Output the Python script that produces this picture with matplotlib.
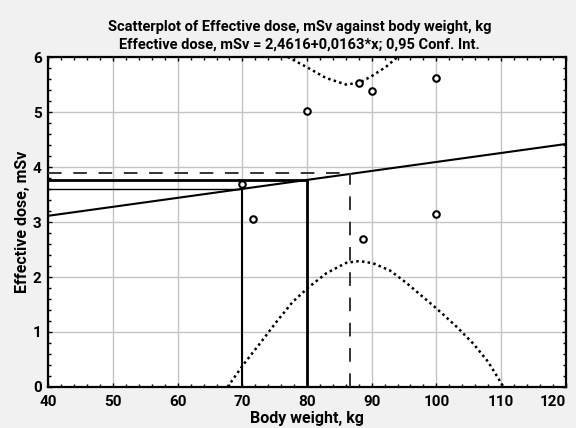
import matplotlib
matplotlib.use("Agg")
import matplotlib.pyplot as plt
from matplotlib.ticker import MultipleLocator
import numpy as np

# data
weight = [70.0, 71.7, 80.0, 88.1, 90.1, 100.0, 100.0, 88.7]
dose = [3.70, 3.05, 5.02, 5.52, 5.38, 5.61, 3.14, 2.69]

intercept = 2.4616
slope = 0.0163

# confidence band (dotted)
upper_x = [77.0, 79.9, 82.9, 86.0, 88.1, 90.1, 92.2, 94.0]
upper_y = [6.00, 5.82, 5.62, 5.50, 5.53, 5.66, 5.82, 6.00]
lower_x = [67.7, 70.1, 72.7, 75.3, 77.8, 80.2, 83.0, 86.1, 88.1, 90.2, 92.8,
           95.4, 97.9, 100.0, 103.1, 105.7, 108.0, 110.4]
lower_y = [0.00, 0.40, 0.79, 1.19, 1.55, 1.81, 2.07, 2.26, 2.29, 2.25, 2.12,
           1.89, 1.64, 1.43, 1.10, 0.79, 0.46, 0.00]

# reference lines
ref_x = [70.0, 80.0]
ref_y = [3.60, 3.77]
dash_x = 86.6
dash_y = 3.90

x_ticks = [40, 50, 60, 70, 80, 90, 100, 110, 120]

plt.rcParams["font.family"] = ["Roboto", "DejaVu Sans"]
plt.rcParams["font.weight"] = "bold"

fig = plt.figure(figsize=(5.76, 4.28), dpi=100, facecolor="#f1f1f1")
ax = fig.add_axes([0.0842, 0.0958, 0.8978, 0.771])
ax.set_facecolor("white")

xs = np.array([40, 120])
ax.plot(xs, intercept + slope * xs, color="black", lw=1.5, zorder=3)

ax.plot(upper_x, upper_y, color="black", lw=1.8, linestyle=(0, (1, 1.3)), zorder=3)
ax.plot(lower_x, lower_y, color="black", lw=1.8, linestyle=(0, (1, 1.3)), zorder=3)

# reference lines from axes to regression line
ax.plot([40, ref_x[0]], [ref_y[0], ref_y[0]], color="black", lw=1.0, zorder=3)
ax.plot([ref_x[0], ref_x[0]], [0, ref_y[0]], color="black", lw=1.5, zorder=3)
ax.plot([40, ref_x[1]], [ref_y[1], ref_y[1]], color="black", lw=2.0, zorder=3)
ax.plot([ref_x[1], ref_x[1]], [0, ref_y[1]], color="black", lw=2.0, zorder=3)
ax.plot([40, dash_x], [dash_y, dash_y], color="#333333", lw=1.4, dashes=(7, 6), zorder=3)
ax.plot([dash_x, dash_x], [0, dash_y], color="#333333", lw=1.4, dashes=(7, 6), zorder=3)

ax.scatter(weight, dose, s=22, facecolors="white", edgecolors="black", linewidths=1.5, zorder=4)

ax.set_xlim(40, 120)
ax.set_ylim(0, 6)
ax.set_xticks(x_ticks, [str(t) for t in x_ticks])
ax.xaxis.set_minor_locator(MultipleLocator(2))
ax.yaxis.set_major_locator(MultipleLocator(1))
ax.yaxis.set_minor_locator(MultipleLocator(0.2))
ax.grid(True, which="major", color="#c4c4c4", lw=1.0, zorder=0)
ax.set_axisbelow(True)
ax.tick_params(which="both", direction="in", top=True, right=True, labelsize=11, width=1)
ax.tick_params(axis="x", which="major", length=3, pad=6)
ax.tick_params(axis="y", which="major", length=3, pad=5)
ax.tick_params(which="minor", length=2.5)
for sp in ax.spines.values():
    sp.set_linewidth(1.6)

# keep "120" inside the figure, as in the reference
ax.get_xticklabels()[-1].set_horizontalalignment("right")

ax.set_xlabel("Body weight, kg", fontsize=11.5, fontweight="bold", labelpad=1)
ax.set_ylabel("Effective dose, mSv", fontsize=11.5, fontweight="bold", labelpad=2)

fig.text(0.52, 0.937, "Scatterplot of Effective dose, mSv against body weight, kg",
         ha="center", va="center", fontsize=10.5, fontweight="bold")
fig.text(0.52, 0.895, "Effective dose, mSv = 2,4616+0,0163*x; 0,95 Conf. Int.",
         ha="center", va="center", fontsize=10.5, fontweight="bold")

fig.savefig("out.png", dpi=100, facecolor=fig.get_facecolor())
